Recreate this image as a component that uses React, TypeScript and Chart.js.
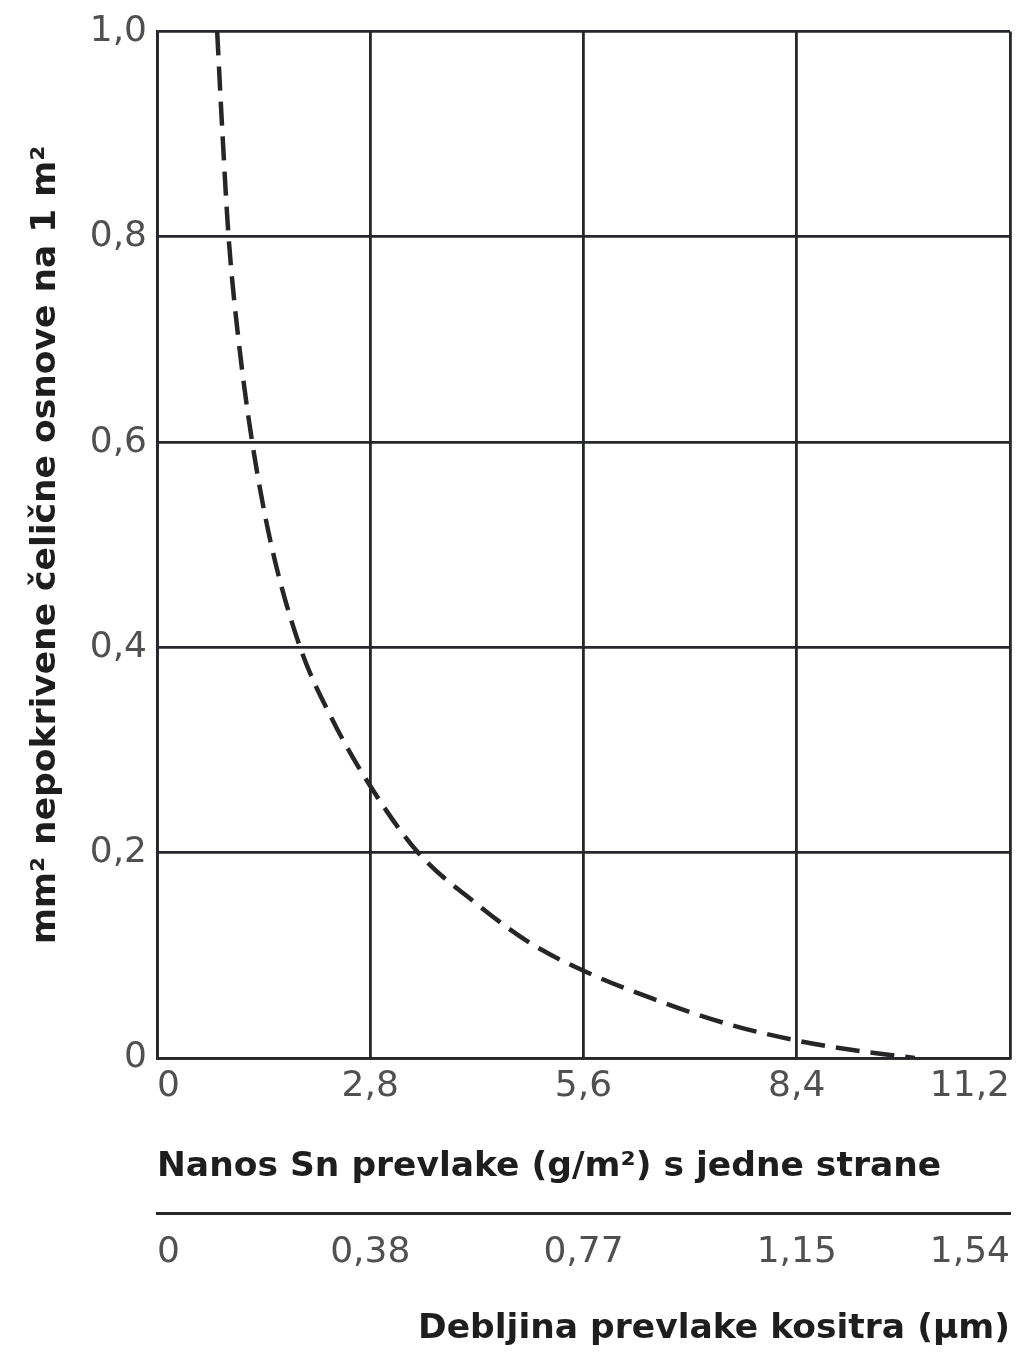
import React, { useEffect, useRef } from "react";
import { Chart, registerables } from "chart.js";

Chart.register(...registerables);

// Curve: mass of Sn coating (g/m²) vs mm² of uncovered steel per 1 m²
const coatingMass = [0.79, 0.86, 0.94, 1.07, 1.25, 1.5, 1.88, 2.3, 2.8, 3.43, 4.2, 4.9, 5.6, 6.5, 7.5, 8.4, 9.2, 9.95];
const uncoveredArea = [1.0, 0.9, 0.8, 0.7, 0.6, 0.5, 0.4, 0.33, 0.265, 0.2, 0.15, 0.112, 0.085, 0.058, 0.033, 0.017, 0.007, 0.0];

const xTickValues = [0, 2.8, 5.6, 8.4, 11.2];
const xTickLabels = ["0", "2,8", "5,6", "8,4", "11,2"];
const thicknessLabels = ["0", "0,38", "0,77", "1,15", "1,54"];
const yTickValues = [0, 0.2, 0.4, 0.6, 0.8, 1.0];
const yTickLabels = ["0", "0,2", "0,4", "0,6", "0,8", "1,0"];

const yTitle = "mm² nepokrivene čelične osnove na 1 m²";
const xTitle = "Nanos Sn prevlake (g/m²) s jedne strane";
const x2Title = "Debljina prevlake kositra (µm)";

const TICK_FONT = { family: "'DejaVu Sans', sans-serif", size: 36, lineHeight: 1.2 };
const TITLE_FONT = { family: "'DejaVu Sans', sans-serif", size: 34.5, weight: "bold" as const, lineHeight: 1.2 };
const GRID = "#26272d";

export default function App() {
  const ref = useRef<HTMLCanvasElement | null>(null);

  useEffect(() => {
    document.body.style.margin = "0";
    const canvas = ref.current;
    if (!canvas) return;
    const data = coatingMass.map((x, i) => ({ x, y: uncoveredArea[i] }));
    const chart = new Chart(canvas, {
      type: "line",
      data: {
        datasets: [
          {
            data,
            borderColor: "#262626",
            borderWidth: 4.5,
            borderDash: [24, 11],
            pointRadius: 0,
            cubicInterpolationMode: "monotone",
            fill: false,
          },
        ],
      },
      options: {
        responsive: false,
        animation: false,
        maintainAspectRatio: false,
        layout: { padding: { top: 26, right: 8, left: 0, bottom: 0 } },
        plugins: { legend: { display: false }, tooltip: { enabled: false } },
        scales: {
          x: {
            type: "linear",
            position: "bottom",
            weight: 0,
            min: 0,
            max: 11.2,
            afterBuildTicks: (s: any) => {
              s.ticks = xTickValues.map((v) => ({ value: v }));
            },
            afterFit: (s: any) => {
              s.height = 155;
              s.paddingLeft = 0;
              s.paddingRight = 0;
            },
            grid: { color: GRID, lineWidth: 2.8, drawTicks: false },
            border: { color: GRID, width: 2.8 },
            ticks: {
              align: "inner",
              padding: 7,
              color: "#505050",
              font: TICK_FONT,
              maxRotation: 0,
              callback: (_v: any, i: number) => xTickLabels[i],
            },
            title: {
              display: true,
              text: xTitle,
              align: "start",
              color: "#1e1e1e",
              font: TITLE_FONT,
              padding: { top: 0, bottom: 25 },
            },
          },
          x2: {
            type: "linear",
            position: "bottom",
            weight: 1,
            min: 0,
            max: 11.2,
            afterBuildTicks: (s: any) => {
              s.ticks = xTickValues.map((v) => ({ value: v }));
            },
            afterFit: (s: any) => {
              s.height = 148;
              s.paddingLeft = 0;
              s.paddingRight = 0;
            },
            grid: { display: true, drawOnChartArea: false, drawTicks: false, color: GRID },
            border: { display: true, color: GRID, width: 3 },
            ticks: {
              align: "inner",
              padding: 18,
              color: "#505050",
              font: TICK_FONT,
              maxRotation: 0,
              callback: (_v: any, i: number) => thicknessLabels[i],
            },
            title: {
              display: true,
              text: x2Title,
              align: "end",
              color: "#1e1e1e",
              font: TITLE_FONT,
              padding: { top: 0, bottom: 11 },
            },
          },
          y: {
            type: "linear",
            min: 0,
            max: 1,
            afterBuildTicks: (s: any) => {
              s.ticks = yTickValues.map((v) => ({ value: v }));
            },
            afterFit: (s: any) => {
              s.width = 157;
            },
            grid: { color: GRID, lineWidth: 2.8, drawTicks: false },
            border: { color: GRID, width: 2.8 },
            ticks: {
              padding: 10,
              color: "#505050",
              font: TICK_FONT,
              callback: (_v: any, i: number) => yTickLabels[i],
            },
            title: {
              display: true,
              text: yTitle,
              color: "#1e1e1e",
              font: TITLE_FONT,
              padding: { top: 25, bottom: 0 },
            },
          },
        },
      },
    });
    return () => chart.destroy();
  }, []);

  return (
    <div style={{ position: "absolute", left: 0, top: 0, width: 1018, height: 1361, background: "#fff" }}>
      <canvas ref={ref} width={1018} height={1361} style={{ display: "block" }} />
    </div>
  );
}
